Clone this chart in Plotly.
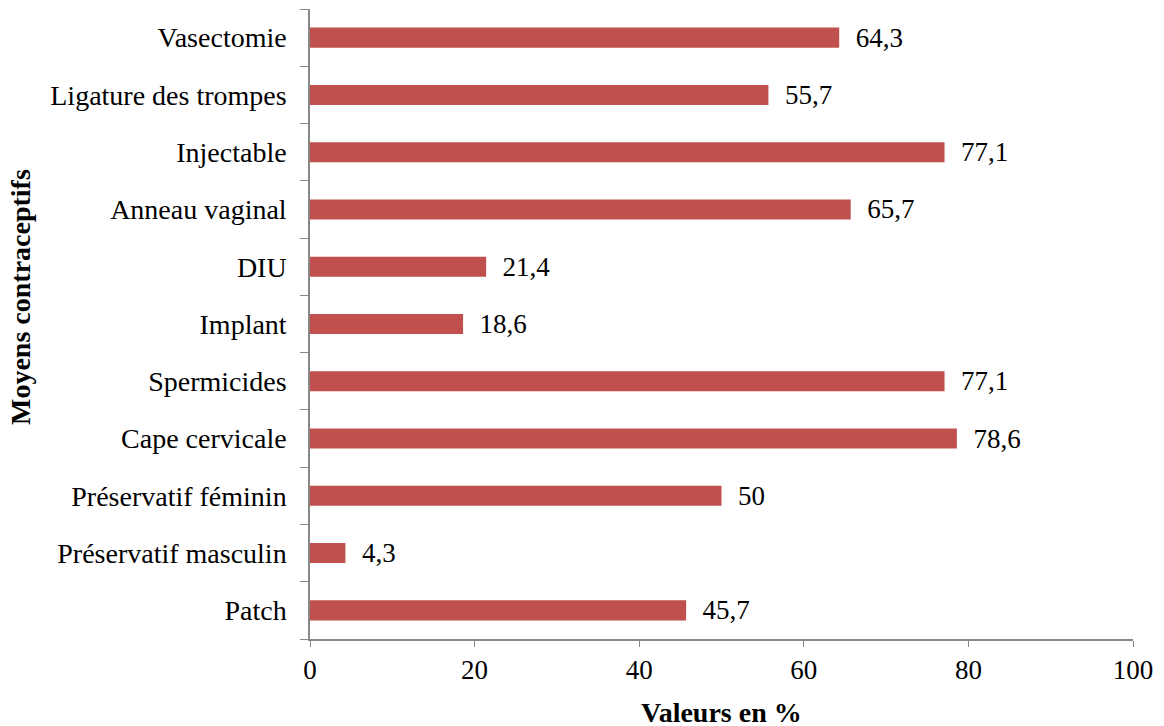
import plotly.graph_objects as go

categories = ["Patch", "Préservatif masculin", "Préservatif féminin", "Cape cervicale",
              "Spermicides", "Implant", "DIU", "Anneau vaginal", "Injectable",
              "Ligature des trompes", "Vasectomie"]
values = [45.7, 4.3, 50, 78.6, 77.1, 18.6, 21.4, 65.7, 77.1, 55.7, 64.3]
x_ticks = [0, 20, 40, 60, 80, 100]

labels = ["  " + (f"{v:g}".replace(".", ",")) for v in values]

font_family = "Liberation Serif, Times New Roman, serif"

fig = go.Figure(go.Bar(
    y=categories, x=values, orientation="h",
    marker=dict(color="#C0504D", line=dict(width=0)),
    width=0.35,
    text=labels, textposition="outside", cliponaxis=False, constraintext="none",
    textfont=dict(family=font_family, size=27, color="black"),
))

fig.update_layout(
    width=1156, height=718,
    margin=dict(l=302, r=31, t=1, b=87, autoexpand=False),
    plot_bgcolor="white", paper_bgcolor="white",
    font=dict(family=font_family, size=27, color="black"),
    showlegend=False,
    xaxis=dict(range=[0, 100], tickvals=x_ticks, ticks="outside", ticklen=6,
               tickcolor="#888888", showline=True, linecolor="#888888", linewidth=1.5,
               showgrid=False, zeroline=False, automargin=False,
               tickfont=dict(size=27)),
    yaxis=dict(type="category", categoryorder="array", categoryarray=categories,
               ticks="outside", ticklen=8, tickson="boundaries", ticklabelstandoff=16,
               tickcolor="#888888", showline=True, linecolor="#888888", linewidth=1.5,
               showgrid=False, zeroline=False, automargin=False,
               tickfont=dict(size=28)),
    annotations=[
        dict(text="<b>Valeurs en %</b>", xref="paper", yref="paper", x=0.5, y=0,
             yshift=-73, showarrow=False, font=dict(size=28), yanchor="middle"),
        dict(text="<b>Moyens contraceptifs</b>", xref="paper", yref="paper", x=0,
             y=(639 - 297) / 630, xshift=-290, textangle=-90, showarrow=False,
             font=dict(size=28), xanchor="center", yanchor="middle"),
    ],
)

fig.write_html("out.html")
